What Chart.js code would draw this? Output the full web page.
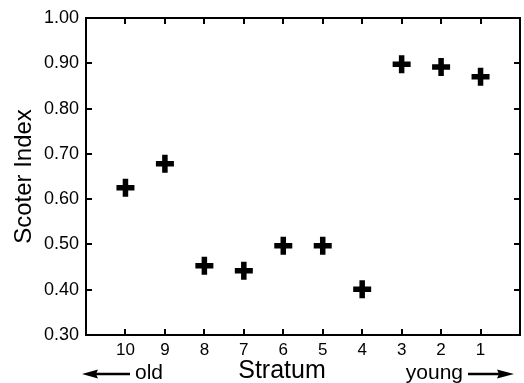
<!DOCTYPE html>
<html>
<head>
    <title>Scoter Index by Stratum</title>
    <style>
        html, body {
            margin: 0;
            padding: 0;
            background: #fff;
        }
        #chart-container {
            width: 524px;
            height: 383px;
        }
    </style>
</head>
<body>
<div id="chart-container">
    <canvas id="scoterChart" width="524" height="383"></canvas>
</div>

<script src="https://cdn.jsdelivr.net/npm/chart.js"></script>

<script>
    // values
    const strata = [10, 9, 8, 7, 6, 5, 4, 3, 2, 1];
    const scoterIndex = [0.625, 0.678, 0.453, 0.442, 0.497, 0.497, 0.401, 0.898, 0.892, 0.870];
    const yTicks = [0.30, 0.40, 0.50, 0.60, 0.70, 0.80, 0.90, 1.00];

    const FONT = '"Liberation Sans", Arial, Helvetica, sans-serif';

    // frame, inward ticks on all sides, axis titles and the old/young arrows
    const framePlugin = {
        id: 'frame',
        afterDraw(chart) {
            const ctx = chart.ctx;
            const area = chart.chartArea;
            const xs = chart.scales.x;
            const ys = chart.scales.y;
            const tick = 6;

            ctx.save();
            ctx.strokeStyle = '#000';
            ctx.lineWidth = 2;
            ctx.strokeRect(area.left, area.top, area.right - area.left, area.bottom - area.top);

            ctx.beginPath();
            strata.forEach(s => {
                const px = Math.round(xs.getPixelForValue(s));
                ctx.moveTo(px, area.bottom);
                ctx.lineTo(px, area.bottom - tick);
                ctx.moveTo(px, area.top);
                ctx.lineTo(px, area.top + tick);
            });
            yTicks.forEach(v => {
                const py = Math.round(ys.getPixelForValue(v));
                ctx.moveTo(area.left, py);
                ctx.lineTo(area.left + tick, py);
                ctx.moveTo(area.right, py);
                ctx.lineTo(area.right - tick, py);
            });
            ctx.stroke();

            ctx.fillStyle = '#000';

            // y title
            ctx.save();
            ctx.translate(24, (area.top + area.bottom) / 2);
            ctx.rotate(-Math.PI / 2);
            ctx.font = '24px ' + FONT;
            ctx.textAlign = 'center';
            ctx.textBaseline = 'middle';
            ctx.fillText('Scoter Index', 0, 0);
            ctx.restore();

            // x title
            ctx.font = '25px ' + FONT;
            ctx.textAlign = 'center';
            ctx.textBaseline = 'middle';
            ctx.fillText('Stratum', 282, 371);

            // old / young
            ctx.font = '21px ' + FONT;
            ctx.textAlign = 'left';
            ctx.fillText('old', 135, 373);
            ctx.textAlign = 'right';
            ctx.fillText('young', 463, 373);

            const ay = 374;
            ctx.lineWidth = 2.5;
            ctx.beginPath();
            ctx.moveTo(94, ay);
            ctx.lineTo(130, ay);
            ctx.moveTo(468, ay);
            ctx.lineTo(500, ay);
            ctx.stroke();

            ctx.beginPath();
            ctx.moveTo(82, ay);
            ctx.lineTo(98, ay - 4.5);
            ctx.lineTo(96, ay);
            ctx.lineTo(98, ay + 4.5);
            ctx.closePath();
            ctx.fill();

            ctx.beginPath();
            ctx.moveTo(514, ay);
            ctx.lineTo(497, ay - 4.5);
            ctx.lineTo(499, ay);
            ctx.lineTo(497, ay + 4.5);
            ctx.closePath();
            ctx.fill();

            ctx.restore();
        }
    };

    const ctx = document.getElementById('scoterChart').getContext('2d');

    new Chart(ctx, {
        type: 'scatter',
        data: {
            datasets: [{
                label: 'Scoter Index',
                data: strata.map((s, i) => ({ x: s, y: scoterIndex[i] })),
                pointStyle: 'cross',
                pointRadius: 9,
                pointHoverRadius: 9,
                pointBorderWidth: 5.5,
                pointHoverBorderWidth: 5.5,
                borderColor: '#000',
                backgroundColor: '#000',
            }]
        },
        options: {
            responsive: false,
            animation: false,
            layout: {
                autoPadding: false,
                padding: { top: 18, right: 4, bottom: 0, left: 0 }
            },
            plugins: {
                legend: { display: false },
                tooltip: { enabled: false },
            },
            scales: {
                x: {
                    type: 'linear',
                    reverse: true,
                    min: 0,
                    max: 11,
                    afterFit: scale => {
                        scale.height = 48;
                        scale.paddingLeft = 0;
                        scale.paddingRight = 0;
                    },
                    afterBuildTicks: scale => {
                        scale.ticks = strata.map(s => ({ value: s }));
                    },
                    ticks: {
                        color: '#000',
                        padding: 5,
                        maxRotation: 0,
                        font: { family: FONT, size: 17 },
                        callback: v => String(v),
                    },
                    grid: { display: false, drawTicks: false },
                    border: { display: false },
                },
                y: {
                    min: 0.3,
                    max: 1.0,
                    afterFit: scale => {
                        scale.width = 86;
                        scale.paddingTop = 0;
                        scale.paddingBottom = 0;
                    },
                    afterBuildTicks: scale => {
                        scale.ticks = yTicks.map(v => ({ value: v }));
                    },
                    ticks: {
                        color: '#000',
                        padding: 7,
                        font: { family: FONT, size: 18 },
                        callback: v => Number(v).toFixed(2),
                    },
                    grid: { display: false, drawTicks: false },
                    border: { display: false },
                }
            }
        },
        plugins: [framePlugin]
    });
</script>
</body>
</html>
